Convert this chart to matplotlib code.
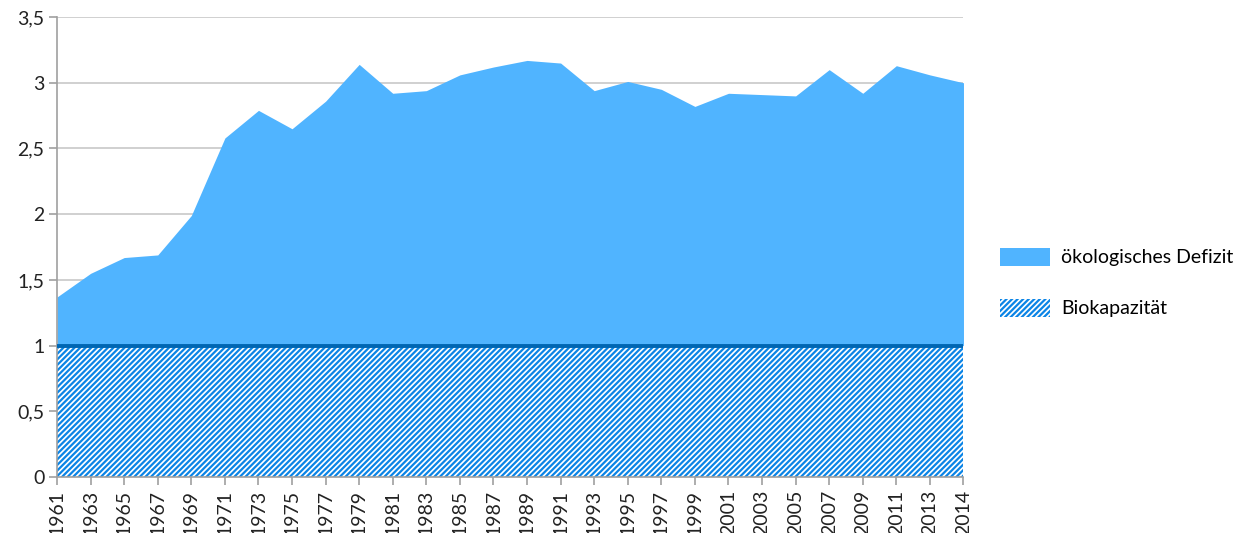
import numpy as np
import matplotlib.pyplot as plt
from matplotlib.patches import Patch

plt.rcParams['font.family'] = ['Lato', 'DejaVu Sans']
plt.rcParams['hatch.linewidth'] = 1.6
plt.rcParams['hatch.color'] = '#0a84e6'

# Jahre (kategoriale Achse) und Werte
years = ['1961', '1963', '1965', '1967', '1969', '1971', '1973', '1975', '1977',
         '1979', '1981', '1983', '1985', '1987', '1989', '1991', '1993', '1995',
         '1997', '1999', '2001', '2003', '2005', '2007', '2009', '2011', '2013',
         '2014']
footprint = [1.37, 1.55, 1.67, 1.69, 1.99, 2.58, 2.79, 2.65, 2.86,
             3.14, 2.92, 2.94, 3.06, 3.12, 3.17, 3.15, 2.94, 3.01,
             2.95, 2.82, 2.92, 2.91, 2.90, 3.10, 2.92, 3.13, 3.06,
             3.00]
biocapacity = [1.0] * len(years)

y_ticks = [0, 0.5, 1, 1.5, 2, 2.5, 3, 3.5]
y_labels = ['0', '0,5', '1', '1,5', '2', '2,5', '3', '3,5']

x = np.arange(len(years))
fp = np.array(footprint)
bc = np.array(biocapacity)

fig = plt.figure(figsize=(12.4, 5.33), dpi=100)
ax = fig.add_axes([0.046, 0.105, 0.731, 0.863])

ax.fill_between(x, bc, fp, color='#50b4ff', linewidth=0, zorder=2)
ax.fill_between(x, 0, bc, facecolor='white', edgecolor='#0a84e6',
                hatch='//////', linewidth=0, zorder=2)
ax.plot(x, bc, color='#0066b3', linewidth=2.8, zorder=3)

ax.set_xlim(0, len(years) - 1)
ax.set_ylim(0, 3.5)
ax.set_xticks(x)
ax.set_xticklabels(years, rotation=90, fontsize=14)
ax.set_yticks(y_ticks)
ax.set_yticklabels(y_labels, fontsize=14)

ax.grid(axis='y', color='#c8c8c8', linewidth=1.2, zorder=0)
ax.set_axisbelow(True)
for side in ['top', 'right']:
    ax.spines[side].set_visible(False)
for side in ['left', 'bottom']:
    ax.spines[side].set_color('#a0a0a0')
    ax.spines[side].set_linewidth(1.2)
ax.tick_params(axis='both', direction='out', length=6, color='#a0a0a0',
               width=1.2, labelcolor='#222222', pad=3)

handles = [Patch(facecolor='#50b4ff', edgecolor='none', label='ökologisches Defizit'),
           Patch(facecolor='white', edgecolor='#0a84e6', hatch='//////',
                 linewidth=0, label='Biokapazität')]
fig.legend(handles=handles, loc='center left', bbox_to_anchor=(0.8, 0.47),
           frameon=False, fontsize=14, handlelength=2.6, handleheight=1.1,
           labelspacing=1.65, handletextpad=0.55, borderaxespad=0)

fig.savefig('out.png', dpi=100)
